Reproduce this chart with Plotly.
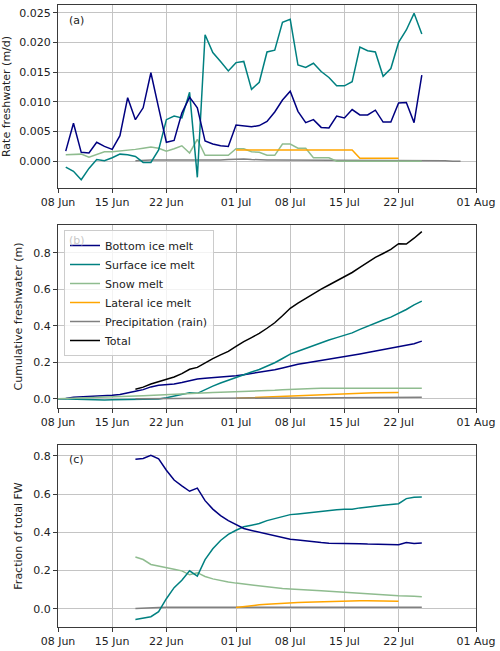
import numpy as np
import pandas as pd
import plotly.graph_objects as go

# ---------------- data (daily rates, m/d) ----------------
start_date = pd.Timestamp("2019-06-08")

# days 1..47 (09 Jun - 25 Jul)
bottom_rate = [0.0017, 0.0064, 0.0015, 0.0014, 0.0032, 0.0025, 0.0020, 0.0043, 0.0107, 0.0070,
               0.0090, 0.0149, 0.0090, 0.0032, 0.0035, 0.0081, 0.0108, 0.0090, 0.0034, 0.0029,
               0.0026, 0.0025, 0.0061, 0.0059, 0.0058, 0.0060, 0.0067, 0.0083, 0.0103, 0.0118,
               0.0084, 0.0065, 0.0070, 0.0057, 0.0056, 0.0076, 0.0073, 0.0087, 0.0078, 0.0078,
               0.0086, 0.0066, 0.0066, 0.0098, 0.0099, 0.0065, 0.0145]
surface_rate = [-0.0010, -0.0017, -0.0031, -0.0012, 0.0003, 0.0001, 0.0006, 0.0012, 0.0011, 0.0008,
                -0.0002, -0.0002, 0.0019, 0.0070, 0.0076, 0.0073, 0.0116, -0.0027, 0.0213, 0.0183,
                0.0168, 0.0152, 0.0166, 0.0168, 0.0121, 0.0133, 0.0184, 0.0187, 0.0234, 0.0239,
                0.0162, 0.0158, 0.0165, 0.0151, 0.0141, 0.0127, 0.0127, 0.0134, 0.0192, 0.0186,
                0.0184, 0.0143, 0.0156, 0.0200, 0.0221, 0.0249, 0.0214]
snow_rate = [0.0011, 0.0012, 0.0012, 0.0007, 0.0012, 0.0016, 0.0016, 0.0017, 0.0018, 0.0020,
             0.0022, 0.0024, 0.0022, 0.0017, 0.0021, 0.0026, 0.0014, 0.0037, 0.0010, 0.0010,
             0.0010, 0.0010, 0.0021, 0.0021, 0.0016, 0.0015, 0.0010, 0.0010, 0.0029, 0.0029,
             0.0022, 0.0022, 0.0006, 0.0006, 0.0006, 0.0000, 0.0000, 0.0000, 0.0000, 0.0000,
             0.0000, 0.0000, 0.0000, 0.0000, 0.0000, 0.0000, 0.0000]
melt_days = list(range(1, 48))

# days 23..44 (01 Jul - 22 Jul)
lateral_rate = [0.0019, 0.0019, 0.0019, 0.0019, 0.0019, 0.0019, 0.0019, 0.0019, 0.0019, 0.0019,
                0.0019, 0.0019, 0.0019, 0.0019, 0.0019, 0.0019, 0.0005, 0.0005, 0.0005, 0.0005,
                0.0005, 0.0005]
lateral_days = list(range(23, 45))

# days 10..52 (18 Jun - 30 Jul)
precip_rate = [0.0001, 0.0002, 0.0002, 0.0002, 0.0002, 0.0001, 0.0002, 0.0001, 0.0001, 0.0001,
               0.0001, 0.0002, 0.0003, 0.0004, 0.0004, 0.0003, 0.0002, 0.0002, 0.0002, 0.0002,
               0.0001, 0.0002, 0.0002, 0.0002, 0.0002, 0.0001, 0.0002, 0.0002, 0.0002, 0.0002,
               0.0002, 0.0002, 0.0002, 0.0002, 0.0002, 0.0002, 0.0002, 0.0002, 0.0001, 0.0001,
               0.0001, 0.0000, 0.0000]
precip_days = list(range(10, 53))

series_names = ["Bottom ice melt", "Surface ice melt", "Snow melt",
                "Lateral ice melt", "Precipitation (rain)", "Total"]
series_colors = ["#000080", "#008080", "#8fbc8f", "#ffa500", "#808080", "#000000"]

tick_dates = ["2019-06-08", "2019-06-15", "2019-06-22", "2019-07-01",
              "2019-07-08", "2019-07-15", "2019-07-22", "2019-08-01"]
tick_labels = ["08 Jun", "15 Jun", "22 Jun", "01 Jul", "08 Jul", "15 Jul", "22 Jul", "01 Aug"]

# ---------------- derived series ----------------
def to_dates(days):
    return [start_date + pd.Timedelta(days=int(d)) for d in days]

n_cum = 48  # days 0..47
cum_days = np.arange(n_cum)
cum_bottom = np.concatenate([[0.0], np.cumsum(bottom_rate)])
cum_surface = np.concatenate([[0.0], np.cumsum(surface_rate)])
cum_snow = np.concatenate([[0.0], np.cumsum(snow_rate)])

cum_lateral = np.full(n_cum, np.nan)
cum_lateral[lateral_days[0]:lateral_days[-1] + 1] = np.cumsum(lateral_rate)

cum_precip = np.full(n_cum, np.nan)
p0 = precip_days[0]
cum_precip[p0:] = np.cumsum(precip_rate)[:n_cum - p0]

total = cum_bottom + cum_surface + cum_snow + np.nan_to_num(cum_lateral) + cum_precip

cum_list = [cum_bottom, cum_surface, cum_snow, cum_lateral, cum_precip]
frac_list = [c / total for c in cum_list]

cdates = to_dates(cum_days)

# ---------------- figure ----------------
fig = go.Figure()
LW = 1.5

rate_series = [(melt_days, bottom_rate), (melt_days, surface_rate), (melt_days, snow_rate),
               (lateral_days, lateral_rate), (precip_days, precip_rate)]
order = [4, 2, 3, 1, 0]
for i in order:
    d, v = rate_series[i]
    fig.add_trace(go.Scatter(x=to_dates(d), y=v, mode="lines",
                             line=dict(color=series_colors[i], width=LW),
                             showlegend=False, xaxis="x", yaxis="y"))

for i in [0, 1, 2, 3, 4]:
    fig.add_trace(go.Scatter(x=cdates, y=cum_list[i], mode="lines", name=series_names[i],
                             line=dict(color=series_colors[i], width=LW),
                             showlegend=True, xaxis="x2", yaxis="y2"))
fig.add_trace(go.Scatter(x=cdates, y=total, mode="lines", name=series_names[5],
                         line=dict(color=series_colors[5], width=LW),
                         showlegend=True, xaxis="x2", yaxis="y2"))

for i in [4, 3, 2, 1, 0]:
    fig.add_trace(go.Scatter(x=cdates, y=frac_list[i], mode="lines",
                             line=dict(color=series_colors[i], width=LW),
                             showlegend=False, xaxis="x3", yaxis="y3"))

FONT = "DejaVu Sans"
axis_common = dict(showline=True, mirror=True, linecolor="#3a3a3a", linewidth=1,
                   ticks="outside", ticklen=4, tickcolor="#3a3a3a",
                   showgrid=True, gridcolor="#c4c4c4", gridwidth=1, zeroline=False,
                   automargin=False,
                   tickfont=dict(size=11, color="#222222", family=FONT))

xr = ["2019-06-08", "2019-08-01"]
H = 622.0
dom_a = [(627 - 188) / H, (627 - 5) / H]
dom_b = [(627 - 408) / H, (627 - 225) / H]
dom_c = [0.0, (627 - 445) / H]

title_font = dict(size=11, color="#222", family=FONT)
xax = dict(axis_common, range=xr, tickmode="array", tickvals=tick_dates, ticktext=tick_labels)
fig.update_layout(
    xaxis=dict(xax, anchor="y"),
    xaxis2=dict(xax, anchor="y2"),
    xaxis3=dict(xax, anchor="y3"),
    yaxis=dict(axis_common, domain=dom_a, anchor="x", range=[-0.0045, 0.0263],
               tickvals=[0, 0.005, 0.01, 0.015, 0.02, 0.025], tickformat=".3f",
               title=dict(text="Rate freshwater (m/d)", font=title_font, standoff=8)),
    yaxis2=dict(axis_common, domain=dom_b, anchor="x2", range=[-0.051, 0.952],
                tickvals=[0, 0.2, 0.4, 0.6, 0.8], tickformat=".1f",
                title=dict(text="Cumulative freshwater (m)", font=title_font, standoff=8)),
    yaxis3=dict(axis_common, domain=dom_c, anchor="x3", range=[-0.095, 0.857],
                tickvals=[0, 0.2, 0.4, 0.6, 0.8], tickformat=".1f",
                title=dict(text="Fraction of total FW", font=title_font, standoff=8)),
    width=500, height=651,
    margin=dict(l=58, r=24, t=5, b=24, autoexpand=False),
    paper_bgcolor="white", plot_bgcolor="white",
    font=dict(family=FONT, size=11, color="#222"),
    legend=dict(x=0.0144, y=(627 - 230) / H, xanchor="left", yanchor="top",
                bgcolor="rgba(255,255,255,0.8)", bordercolor="#cccccc", borderwidth=1,
                font=dict(size=11, color="#222", family=FONT), itemwidth=30,
                tracegroupgap=0),
)

for lab, yref, xref, yy, col in [("(a)", "y domain", "x domain", 0.913, "#222"),
                                 ("(b)", "y2 domain", "x2 domain", 0.918, "#c8c8c8"),
                                 ("(c)", "y3 domain", "x3 domain", 0.923, "#222")]:
    fig.add_annotation(text=lab, xref=xref, yref=yref, x=0.021, y=yy,
                       xanchor="left", yanchor="middle", showarrow=False,
                       font=dict(size=11, color=col, family=FONT))

fig.write_html("out.html", config={"displayModeBar": False},
               post_script="document.body.style.margin='0';document.body.style.overflow='hidden';")
